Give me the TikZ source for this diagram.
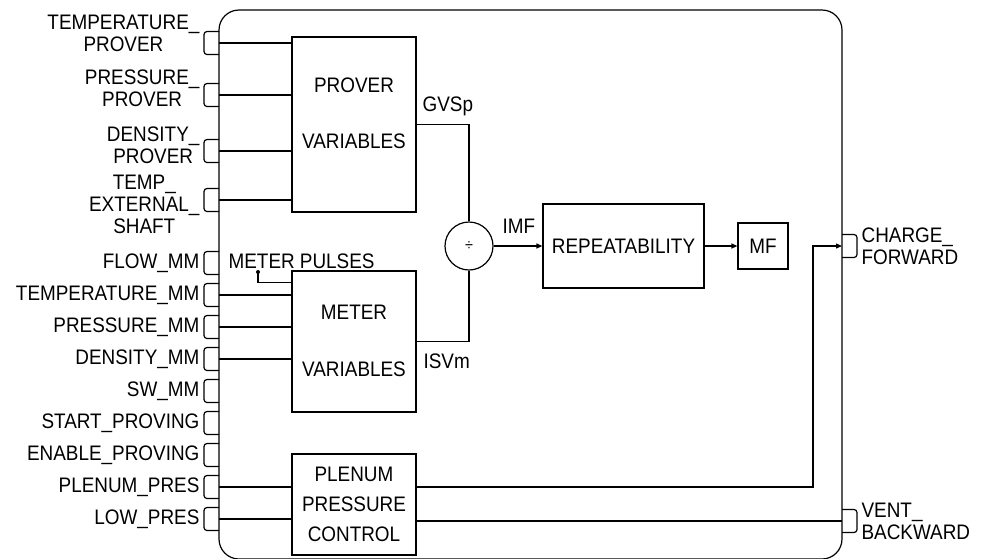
\documentclass[tikz,border=0pt]{standalone}
\usepackage{fontspec}
\setmainfont{Liberation Sans}[FakeStretch=0.9]
\usetikzlibrary{arrows.meta}

\begin{document}
\begin{tikzpicture}[x=1pt, y=-1pt, line width=1.2pt, >={Triangle[length=6pt,width=5pt]},
    font=\fontsize{21}{22}\selectfont,
    blk/.style={draw, inner sep=0pt},
    txt/.style={inner sep=0pt}]
    \useasboundingbox (0,0) rectangle (987,558);
    % outer block
    \draw[rounded corners=20pt] (219,10) rectangle (842,559);
    % input pins
    \foreach \n/\y/\ly/\t in {tpr/43/33.5/{TEMPERATURE\_\\PROVER}, ppr/95/88/{PRESSURE\_\\PROVER},
        dpr/151/145/{DENSITY\_\\PROVER}, tes/200/204/{TEMP\_\\EXTERNAL\_\\SHAFT},
        fmm/263/263/{FLOW\_MM}, tmm/295/295/{TEMPERATURE\_MM}, pmm/327/327/{PRESSURE\_MM},
        dmm/359/359/{DENSITY\_MM}, smm/391/391/{SW\_MM}, spr/423/423/{START\_PROVING},
        epr/455/455/{ENABLE\_PROVING}, plp/487/487/{PLENUM\_PRES}, lwp/519/519/{LOW\_PRES}} {
        \draw[rounded corners=3pt] (219,\y-11.5) -- (204,\y-11.5) -- (204,\y+11.5) -- (219,\y+11.5);
        \coordinate (\n) at (219,\y);
        \node[txt, anchor=east, align=center] (\n-lbl) at (200,\ly) {\t};
    }
    % output pins
    \foreach \n/\y/\t in {chg/246/{CHARGE\_\\FORWARD}, vnt/521/{VENT\_\\BACKWARD}} {
        \draw[rounded corners=3pt] (842,\y-11.5) -- (857,\y-11.5) -- (857,\y+11.5) -- (842,\y+11.5);
        \coordinate (\n) at (842,\y);
        \node[txt, anchor=west, align=left] (\n-lbl) at (861,\y) {\t};
    }
    % blocks
    \node[blk, minimum width=124pt, minimum height=175pt] (prover) at (354,124.5) {};
    \node[txt] (prover-a) at (354,85) {PROVER};
    \node[txt] (prover-b) at (354,141.5) {VARIABLES};
    \node[blk, minimum width=124pt, minimum height=141pt] (meter) at (354,341.5) {};
    \node[txt] (meter-a) at (354,312.5) {METER};
    \node[txt] (meter-b) at (354,369.5) {VARIABLES};
    \node[blk, minimum width=124pt, minimum height=101pt, align=center] (plenum) at (354,504.5)
        {PLENUM\\[8pt]PRESSURE\\[8pt]CONTROL};
    \node[blk, circle, minimum size=48pt] (div) at (469,246) {\fontsize{16}{16}\selectfont ÷};
    \node[blk, minimum width=161pt, minimum height=84pt] (repeat) at (623.5,246) {REPEATABILITY};
    \node[blk, minimum width=50pt, minimum height=46pt] (mf) at (763,246) {MF};
    % prover inputs
    \foreach \n in {tpr, ppr, dpr, tes}
        \draw (\n) -- (\n -| prover.west);
    % meter inputs
    \foreach \n in {tmm, pmm, dmm}
        \draw (\n) -- (\n -| meter.west);
    \node[txt, anchor=base west] (pulses) at (228,268) {METER PULSES};
    \coordinate (pdot) at (258,272);
    \fill (pdot) circle (2pt);
    \draw (pdot) |- ([yshift=-12pt]meter.north west);
    % plenum inputs and outputs
    \foreach \n in {plp, lwp}
        \draw (\n) -- (\n -| plenum.west);
    \draw[->] (plenum.east |- plp) -| ([xshift=-29pt]chg) -- (chg);
    \draw (plenum.east |- vnt) -- (vnt);
    % ratio
    \draw (prover.east) -| (div.north);
    \draw (meter.east) -| (div.south);
    \node[txt, anchor=base west] (gvsp) at (422,111) {GVSp};
    \node[txt, anchor=base west] (isvm) at (423,368) {ISVm};
    \draw[->] (div) -- (repeat);
    \node[txt, anchor=base west] (imf) at (502,233) {IMF};
    \draw[->] (repeat) -- (mf);
\end{tikzpicture}
\end{document}
